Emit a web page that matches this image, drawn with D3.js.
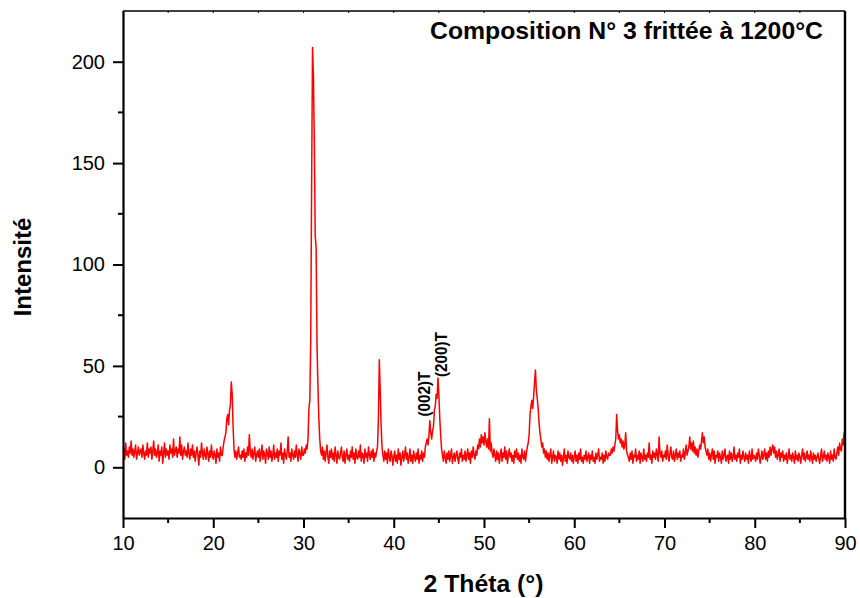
<!DOCTYPE html>
<html>
<head>
<meta charset="utf-8">
<script src="https://cdn.jsdelivr.net/npm/d3@7"></script>
<style>
  body { margin: 0; background: #fff; font-family: "Liberation Sans", Arial, sans-serif; }
</style>
</head>
<body>
<div class="chart"></div>
<script>
// XRD pattern, 2 theta from 10 to 90 deg, one reading every 0.1 deg
const thetaStart = 10;
const thetaStep = 0.1;
const intensity = [
  7,9,4,12,6,8,5,10,7,13,      // 10
  6,9,5,8,11,4,7,10,6,8,       // 11
  9,5,11,7,4,8,6,12,5,9,       // 12
  7,10,4,8,13,6,9,5,7,11,      // 13
  3,8,6,10,2,7,12,5,9,6,       // 14
  8,4,11,7,9,5,14,6,8,10,      // 15
  5,9,7,15,6,11,4,8,10,6,      // 16
  8,5,12,7,4,9,6,11,5,8,       // 17
  3,7,10,6,1,8,5,12,7,4,       // 18
  9,6,4,10,7,3,8,5,11,6,       // 19
  4,8,6,2,9,5,7,3,10,6,        // 20
  6,10,13,15,17,24,26,21,28,31, // 21
  42,36,20,9,5,8,4,7,10,5,     // 22
  6,4,8,5,9,3,7,5,10,6,        // 23
  16,8,5,9,4,7,10,3,6,8,       // 24
  5,9,3,7,11,4,8,6,2,9,        // 25
  7,4,10,5,8,3,6,11,4,7,       // 26
  5,9,3,8,6,12,4,7,2,9,        // 27
  6,4,8,15,5,7,3,9,6,4,        // 28
  8,5,11,6,3,9,7,4,10,6,       // 29
  6,9,7,11,9,14,29,33,62,140,  // 30
  207,193,160,114,108,60,40,24,14,8, // 31
  6,10,4,8,3,7,11,5,2,8,       // 32
  5,9,4,7,3,10,6,2,8,5,        // 33
  4,7,10,5,3,8,2,6,9,4,        // 34
  6,3,8,5,10,4,7,2,9,5,        // 35
  4,8,5,11,3,7,6,2,9,5,        // 36
  7,3,10,6,4,8,5,9,3,7,        // 37
  5,8,10,24,53,38,21,10,6,3,   // 38
  8,4,7,2,9,5,3,8,6,1,         // 39
  5,8,3,6,2,9,4,7,1,5,         // 40
  8,3,6,10,4,7,2,5,9,3,        // 41
  6,2,8,5,3,7,4,9,2,6,         // 42
  4,8,3,7,5,10,12,14,11,16,    // 43
  23,17,14,18,20,28,30,36,34,44, // 44
  36,24,16,9,6,3,8,5,2,7,      // 45
  4,8,3,6,9,2,5,7,3,6,         // 46
  8,4,2,7,5,9,3,6,4,8,         // 47
  3,6,9,4,7,2,8,5,10,6,        // 48
  4,8,6,11,9,14,10,16,12,15,   // 49
  11,17,13,10,14,9,24,8,12,7,  // 50
  5,9,6,3,8,4,7,2,6,9,         // 51
  3,7,5,10,4,8,2,6,9,5,        // 52
  7,3,6,2,8,5,9,4,7,3,         // 53
  6,2,9,5,4,8,3,7,10,12,       // 54
  16,26,30,33,29,35,42,48,38,34, // 55
  29,22,17,14,10,12,7,9,5,8,   // 56
  4,7,3,6,9,2,5,8,3,6,         // 57
  5,2,8,4,7,3,6,1,5,9,         // 58
  3,6,2,8,5,4,7,3,6,2,         // 59
  5,8,3,6,2,7,4,9,3,5,         // 60
  2,6,4,8,3,5,7,2,6,4,         // 61
  8,3,5,2,7,4,6,9,3,5,         // 62
  4,7,2,6,3,8,5,4,7,6,         // 63
  6,9,7,10,8,11,14,26,18,14,   // 64
  16,12,14,10,13,9,11,17,8,6,  // 65
  5,3,7,4,8,2,6,5,9,3,         // 66
  6,4,8,2,7,5,3,9,4,6,         // 67
  3,7,5,12,4,6,2,8,5,7,        // 68
  4,9,6,3,15,7,5,8,3,6,        // 69
  5,8,4,11,6,3,7,10,5,4,       // 70
  8,3,6,9,4,7,5,8,3,6,         // 71
  5,9,4,7,11,6,8,10,15,9,      // 72
  12,8,13,7,10,6,9,5,8,11,     // 73
  9,13,17,12,15,10,8,6,9,4,    // 74
  7,3,6,9,4,8,2,6,5,8,         // 75
  3,7,5,2,8,4,6,9,3,5,         // 76
  6,2,8,4,7,3,5,10,4,6,        // 77
  3,7,5,9,2,6,4,8,5,3,         // 78
  7,4,6,2,8,5,3,9,4,6,         // 79
  5,3,7,4,9,6,2,5,8,4,         // 80
  6,9,4,7,3,8,5,10,6,9,        // 81
  11,7,10,5,8,4,6,9,3,7,       // 82
  5,8,3,6,4,7,2,5,9,4,         // 83
  6,3,7,5,2,8,4,6,3,7,         // 84
  5,2,6,9,4,7,3,5,8,4,         // 85
  6,3,8,5,2,7,4,6,3,5,         // 86
  7,4,2,6,9,3,5,8,4,6,         // 87
  3,7,5,2,8,4,6,3,9,5,         // 88
  4,7,10,6,12,9,8,14,11,17,    // 89
  15                           // 90
];

const xTicks = [10, 20, 30, 40, 50, 60, 70, 80, 90];
const xMinor = [15, 25, 35, 45, 55, 65, 75, 85];
const yTicks = [0, 50, 100, 150, 200];
const yMinor = [25, 75, 125, 175];
const title = "Composition N° 3 frittée à 1200°C";
const xLabel = "2 Théta (°)";
const yLabel = "Intensité";
// label foot sits at (theta, value); dx nudges the baseline sideways in px
const peakLabels = [
  { text: "(002)T", theta: 44.0, value: 25, dx: 0 },
  { text: "(200)T", theta: 44.94, value: 44.5, dx: 9 }
];

const W = 860, H = 598;
const margin = { top: 11, right: 15, bottom: 80, left: 123 };
const w = W - margin.left - margin.right;
const h = H - margin.top - margin.bottom;

const x = d3.scaleLinear().domain([10, 90]).range([0, w]);
const y = d3.scaleLinear().domain([-25, 225]).range([h, 0]);

const svg = d3.select(".chart").append("svg")
    .attr("width", W)
    .attr("height", H);

svg.append("defs").append("clipPath")
    .attr("id", "plotclip")
    .append("rect")
    .attr("width", w)
    .attr("height", h);

const g = svg.append("g")
    .attr("transform", `translate(${margin.left},${margin.top})`);

const data = intensity.map((v, i) => [thetaStart + i * thetaStep, v]);

const line = d3.line()
    .x(d => x(d[0]))
    .y(d => y(d[1]));

g.append("path")
    .datum(data)
    .attr("clip-path", "url(#plotclip)")
    .attr("fill", "none")
    .attr("stroke", "#ff0000")
    .attr("stroke-width", 1.5)
    .attr("stroke-linejoin", "round")
    .attr("d", line);

// frame: top and right
g.append("line")
    .attr("x1", 0).attr("x2", w)
    .attr("y1", 0).attr("y2", 0)
    .attr("stroke", "#000").attr("stroke-width", 1.6);
g.append("line")
    .attr("x1", w).attr("x2", w)
    .attr("y1", 0).attr("y2", h)
    .attr("stroke", "#000").attr("stroke-width", 2.4);

// small inner ticks on top axis
g.append("g").selectAll("line")
    .data(xTicks.concat(xMinor))
    .join("line")
    .attr("x1", d => x(d)).attr("x2", d => x(d))
    .attr("y1", 0).attr("y2", 2)
    .attr("stroke", "#000").attr("stroke-width", 1);

// bottom axis
const xAxis = g.append("g")
    .attr("transform", `translate(0,${h})`)
    .call(d3.axisBottom(x).tickValues(xTicks).tickSize(10).tickPadding(8).tickSizeOuter(0));
xAxis.selectAll(".tick line").attr("stroke-width", 2);
xAxis.select(".domain").attr("stroke-width", 2.2);
xAxis.selectAll(".tick text")
    .attr("font-family", "Liberation Sans, Arial, sans-serif")
    .attr("font-size", 20)
    .attr("fill", "#000");
xAxis.append("g").selectAll("line")
    .data(xMinor)
    .join("line")
    .attr("x1", d => x(d)).attr("x2", d => x(d))
    .attr("y1", 0).attr("y2", 5)
    .attr("stroke", "#000").attr("stroke-width", 2);

// left axis
const yAxis = g.append("g")
    .call(d3.axisLeft(y).tickValues(yTicks).tickSize(10).tickPadding(8).tickSizeOuter(0));
yAxis.selectAll(".tick line").attr("stroke-width", 2);
yAxis.select(".domain").attr("stroke-width", 2.2);
yAxis.selectAll(".tick text")
    .attr("font-family", "Liberation Sans, Arial, sans-serif")
    .attr("font-size", 20)
    .attr("fill", "#000");
yAxis.append("g").selectAll("line")
    .data(yMinor)
    .join("line")
    .attr("y1", d => y(d)).attr("y2", d => y(d))
    .attr("x1", 0).attr("x2", -5)
    .attr("stroke", "#000").attr("stroke-width", 2);

// axis titles
svg.append("text")
    .attr("x", margin.left + x(50) - 0.5)
    .attr("y", 592)
    .attr("text-anchor", "middle")
    .attr("font-weight", "bold")
    .attr("font-size", 24)
    .attr("textLength", 120)
    .attr("lengthAdjust", "spacingAndGlyphs")
    .text(xLabel);

svg.append("text")
    .attr("transform", "translate(31,267) rotate(-90)")
    .attr("text-anchor", "middle")
    .attr("font-weight", "bold")
    .attr("font-size", 24)
    .text(yLabel);

// chart title, inside the frame at top right
svg.append("text")
    .attr("x", 430)
    .attr("y", 39)
    .attr("font-weight", "bold")
    .attr("font-size", 24)
    .attr("textLength", 393)
    .attr("lengthAdjust", "spacingAndGlyphs")
    .text(title);

// peak labels, written vertically above the peaks
g.selectAll(".peak")
    .data(peakLabels)
    .join("text")
    .attr("class", "peak")
    .attr("transform", d => `translate(${x(d.theta) + d.dx},${y(d.value)}) rotate(-90)`)
    .attr("font-weight", "bold")
    .attr("font-size", 17)
    .attr("textLength", 45)
    .attr("lengthAdjust", "spacingAndGlyphs")
    .text(d => d.text);
</script>
</body>
</html>
